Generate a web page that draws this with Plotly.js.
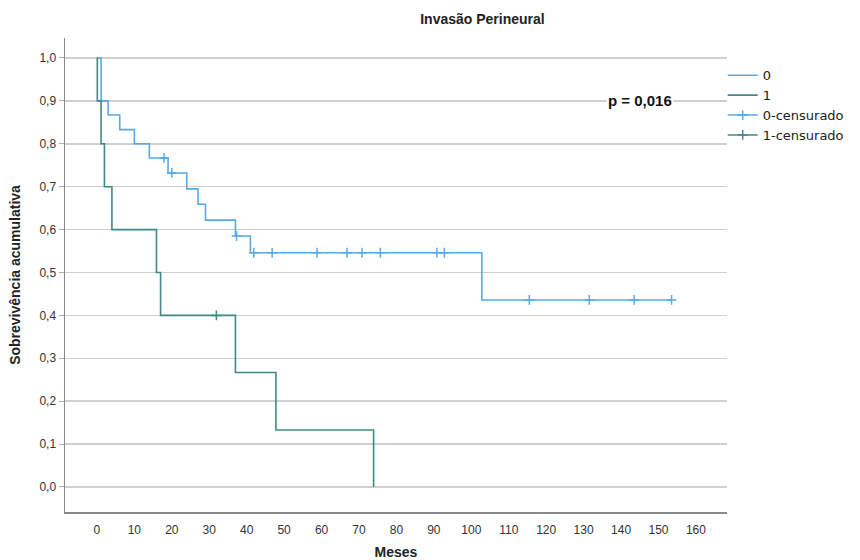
<!DOCTYPE html>
<html>
<head>
<meta charset="utf-8">
<script src="https://cdn.plot.ly/plotly-3.0.1.min.js"></script>
<style>html,body{margin:0;padding:0;background:#fff;}#chart{width:860px;height:560px;}</style>
</head>
<body>
<div id="chart"></div>
<script>
// Group 0 (no perineural invasion) – KM steps
var g0Times = [0, 1.1, 3.0, 6.1, 10.0, 14.0, 19.0, 24.0, 27.0, 29.0, 37.0, 41.0, 102.8, 153.5];
var g0Surv  = [1.0, 0.900, 0.867, 0.833, 0.800, 0.767, 0.732, 0.695, 0.659, 0.622, 0.585, 0.546, 0.436, 0.436];
// Group 0 censored
var g0CensTimes = [17.9, 20.0, 37.3, 41.9, 46.8, 58.8, 66.8, 70.8, 75.7, 90.8, 92.8, 115.5, 131.5, 143.5, 153.5];
var g0CensSurv  = [0.767, 0.732, 0.585, 0.546, 0.546, 0.546, 0.546, 0.546, 0.546, 0.546, 0.546, 0.436, 0.436, 0.436, 0.436];
// Group 1 (perineural invasion) – KM steps
var g1Times = [0, 0.1, 1.1, 2.0, 4.0, 15.9, 17.0, 37.0, 47.8, 73.9];
var g1Surv  = [1.0, 0.9, 0.8, 0.7, 0.6, 0.5, 0.4, 0.267, 0.133, 0.0];
// Group 1 censored
var g1CensTimes = [31.9];
var g1CensSurv  = [0.4];

var xTickVals = [0,10,20,30,40,50,60,70,80,90,100,110,120,130,140,150,160];
var yTickVals = [0,0.1,0.2,0.3,0.4,0.5,0.6,0.7,0.8,0.9,1.0];
var yTickText = ["0,0","0,1","0,2","0,3","0,4","0,5","0,6","0,7","0,8","0,9","1,0"];

var blue = '#55abe8';
var teal = '#3f8a86';

function gapped(arr){ // separate points so no connecting line is drawn between censor marks
  var out = [];
  arr.forEach(function(v,i){ if(i>0) out.push(null); out.push(v); });
  return out;
}

var traces = [
  {x: g0Times, y: g0Surv, type:'scatter', mode:'lines', line:{shape:'hv', color: blue, width:1.6}, name:'0'},
  {x: g1Times, y: g1Surv, type:'scatter', mode:'lines', line:{shape:'hv', color: teal, width:1.6}, name:'1'},
  {x: gapped(g0CensTimes), y: gapped(g0CensSurv), type:'scatter', mode:'lines+markers', connectgaps:false,
   line:{color: blue, width:1.6},
   marker:{symbol:'cross-thin-open', size:7, color: blue, line:{color: blue, width:1.5}}, name:'0-censurado'},
  {x: gapped(g1CensTimes), y: gapped(g1CensSurv), type:'scatter', mode:'lines+markers', connectgaps:false,
   line:{color: teal, width:1.6},
   marker:{symbol:'cross-thin-open', size:7, color: teal, line:{color: teal, width:1.5}}, name:'1-censurado'}
];

var layout = {
  width: 860, height: 560,
  margin: {l:65, r:132, t:38, b:48},
  paper_bgcolor:'#ffffff', plot_bgcolor:'#ffffff',
  font: {family:'Liberation Sans, Arial, sans-serif', size:12, color:'#333'},
  title: {text:'<b>Invasão Perineural</b>', xref:'container', x:0.561, xanchor:'center',
          yref:'container', y:0.966, yanchor:'middle',
          font:{family:'Liberation Sans, Arial, sans-serif', size:14, color:'#222'}},
  showlegend: true,
  legend: {x:0.992, xanchor:'left', y:0.953, yanchor:'top', bgcolor:'rgba(0,0,0,0)',
           font:{family:'DejaVu Sans, sans-serif', size:13, color:'#222'}, tracegroupgap:0, itemwidth:30},
  xaxis: {range:[-8.53, 168.3], tickvals: xTickVals, ticktext: xTickVals.map(String),
          showgrid:false, zeroline:false, showline:true, linecolor:'#8a8a8a', linewidth:1.5,
          ticks:'', ticklabelstandoff:6, tickfont:{size:12, color:'#333'},
          title:{text:'<b>Meses</b>', standoff:18, font:{family:'Liberation Sans, Arial, sans-serif', size:14, color:'#222'}}},
  yaxis: {range:[-0.0583, 1.0466], tickvals: yTickVals, ticktext: yTickText,
          showgrid:true, gridcolor:'#cfcfcf', gridwidth:1.5, zeroline:false,
          showline:true, linecolor:'#8a8a8a', linewidth:1.5,
          ticks:'outside', ticklen:5, tickcolor:'#b0b0b0', tickwidth:1,
          tickfont:{size:12, color:'#333'},
          title:{text:'<b>Sobrevivência acumulativa</b>', standoff:15, font:{family:'Liberation Sans, Arial, sans-serif', size:14, color:'#222'}}},
  annotations: [
    {x:145, y:0.9, xref:'x', yref:'y', text:'<b>p = 0,016</b>', showarrow:false,
     bgcolor:'#ffffff', font:{family:'Liberation Sans, Arial, sans-serif', size:15, color:'#111'}}
  ]
};

Plotly.newPlot('chart', traces, layout, {displayModeBar:false, staticPlot:true});
</script>
</body>
</html>
